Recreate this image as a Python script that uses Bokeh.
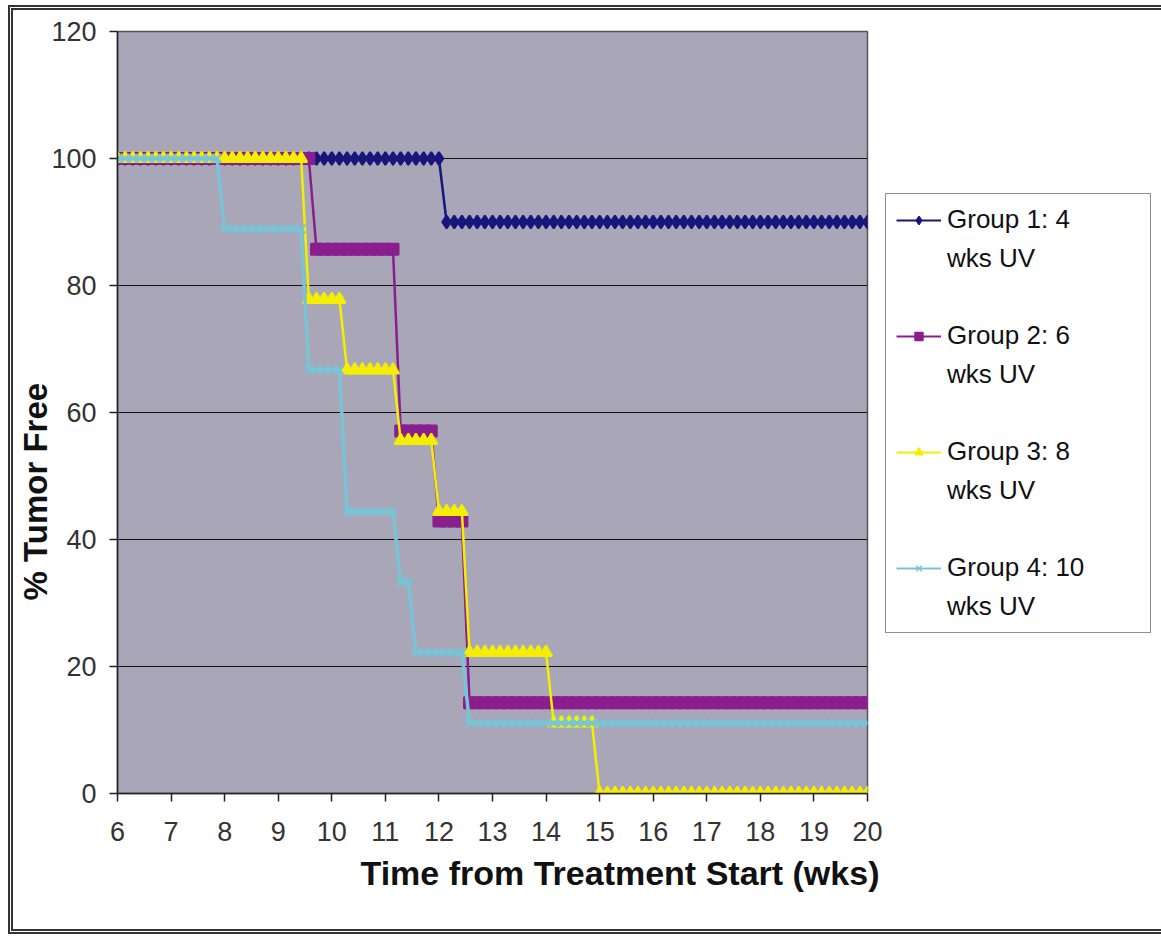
import numpy as np
from bokeh.plotting import figure
from bokeh.layouts import row
from bokeh.models import Range1d, Legend, LegendItem, Title
from bokeh.embed import file_html
from bokeh.resources import INLINE

# Observation days (daily readings from week 6 to week 20)
days = np.arange(42, 141)
weeks = days / 7.0

# Percent tumor free: each level with the number of daily readings it holds
g1_levels = [100, 90]
g1_counts = [43, 56]
g2_levels = [100, 85.7, 57.1, 42.9, 14.3]
g2_counts = [26, 11, 5, 4, 53]
g3_levels = [100, 77.8, 66.7, 55.6, 44.4, 22.2, 11.1, 0]
g3_counts = [25, 5, 7, 5, 4, 11, 6, 36]
g4_levels = [100, 88.9, 66.7, 44.4, 33.3, 22.2, 11.1]
g4_counts = [14, 11, 5, 7, 2, 7, 53]

group_names = ["Group 1: 4", "Group 2: 6", "Group 3: 8", "Group 4: 10"]
group_suffix = "wks UV"
x_ticks = list(range(6, 21))
y_ticks = [0, 20, 40, 60, 80, 100, 120]

FONT = "Liberation Sans"

p = figure(width=872, height=919,
           x_range=Range1d(6, 20), y_range=Range1d(0, 120),
           output_backend="svg", toolbar_location=None,
           min_border_left=104, min_border_right=18,
           min_border_top=21, min_border_bottom=136)
p.background_fill_color = "#a9a6b8"
p.border_fill_color = "white"
p.outline_line_color = "#555555"
p.outline_line_width = 1.5

p.xgrid.grid_line_color = None
p.ygrid.ticker = y_ticks
p.ygrid.grid_line_color = "#111111"
p.ygrid.grid_line_width = 1.2

for ax, ticks in ((p.xaxis, x_ticks), (p.yaxis, y_ticks)):
    ax.ticker = ticks
    ax.minor_tick_line_color = None
    ax.major_tick_in = 0
    ax.major_tick_out = 8
    ax.axis_line_color = "#222222"
    ax.axis_line_width = 1.5
    ax.major_tick_line_color = "#222222"
    ax.major_tick_line_width = 1.5
    ax.major_label_text_font = FONT
    ax.major_label_text_font_size = "27px"
    ax.major_label_text_color = "#333333"
p.yaxis.major_label_standoff = 13
p.xaxis.major_label_standoff = 20

styles = [
    ("#16167c", "diamond", 13, 2.5),
    ("#8a1e8e", "square", 11, 2.5),
    ("#f4ef00", "triangle", 12, 2.5),
    ("#78c4d6", "x", 12, 3.5),
]
data = [
    np.repeat(g1_levels, g1_counts),
    np.repeat(g2_levels, g2_counts),
    np.repeat(g3_levels, g3_counts),
    np.repeat(g4_levels, g4_counts),
]

p.add_layout(Title(text="Time from Treatment Start (wks)", align="left",
                   offset=243, standoff=16, text_font=FONT,
                   text_font_size="34px", text_font_style="bold",
                   text_color="#111111"), "below")
p.add_layout(Title(text="% Tumor Free", align="left", offset=193,
                   standoff=-10, text_font=FONT, text_font_size="33px",
                   text_font_style="bold", text_color="#111111"), "left")

# Key panel: a blank frame holding the legend box to the right of the chart
key = figure(width=278, height=919, x_range=Range1d(0, 1), y_range=Range1d(0, 1),
             output_backend="svg", toolbar_location=None,
             x_axis_location=None, y_axis_location=None,
             min_border_left=0, min_border_right=0,
             min_border_top=0, min_border_bottom=0)
key.grid.grid_line_color = None
key.outline_line_color = None
key.background_fill_color = "white"
key.border_fill_color = "white"

blank = key.line([-5, -4], [-5, -4], line_alpha=0)

items = []
for i, (name, vals, (color, marker, size, lw)) in enumerate(zip(group_names, data, styles)):
    # series on the chart
    p.line(weeks, vals, line_color=color, line_width=lw)
    p.scatter(weeks, vals, marker=marker, size=size,
              fill_color=color, line_color=color, line_width=2)
    # same series in the key panel (outside its view, only the swatch shows)
    kl = key.line(weeks, vals, line_color=color, line_width=2)
    ks = key.scatter(weeks, vals, marker=marker, size=11,
                     fill_color=color, line_color=color, line_width=1.5)
    items.append(LegendItem(label=name, renderers=[kl, ks]))
    items.append(LegendItem(label=group_suffix, renderers=[blank]))
    if i < len(group_names) - 1:
        items.append(LegendItem(label=" ", renderers=[blank]))

legend = Legend(items=items, location=(0, 160))
legend.label_text_font = FONT
legend.label_text_font_size = "26px"
legend.label_text_color = "#111111"
legend.glyph_width = 45
legend.glyph_height = 20
legend.label_standoff = 6
legend.label_width = 193
legend.label_height = 30
legend.spacing = 8
legend.padding = 10
legend.margin = 0
legend.border_line_color = "#222222"
legend.border_line_width = 1.5
legend.background_fill_color = "white"
legend.background_fill_alpha = 1.0
key.add_layout(legend, "center")

layout = row(p, key)
layout.styles = {"border": "5px double #333333", "margin": "5px 0px 0px 8px"}

open("out.html", "w").write(file_html(layout, INLINE))
